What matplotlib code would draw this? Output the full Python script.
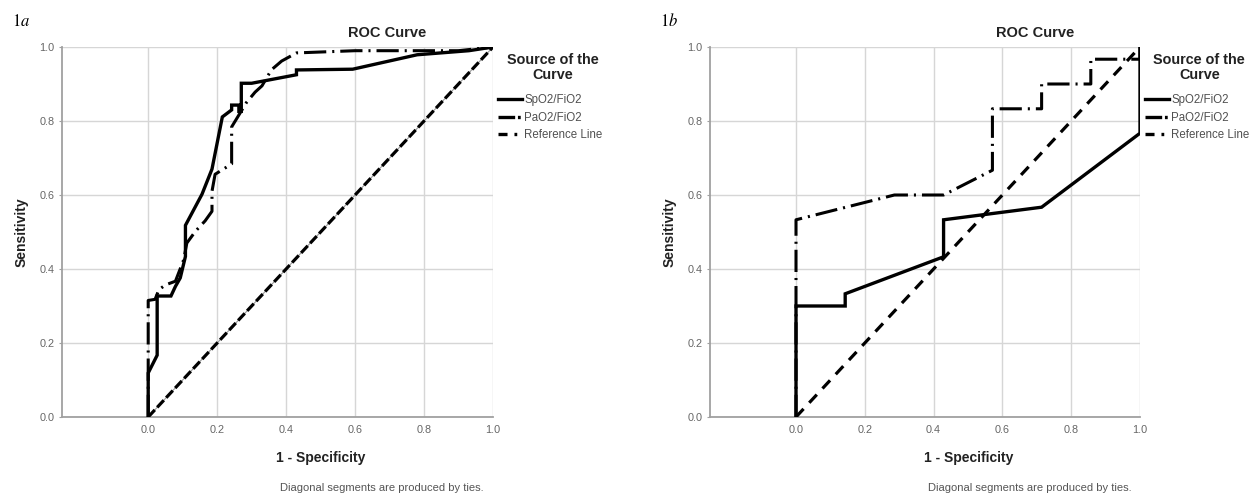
import numpy as np
import matplotlib
matplotlib.use('Agg')
import matplotlib.pyplot as plt
from matplotlib.lines import Line2D

plt.rcParams['font.family'] = ['Liberation Sans', 'DejaVu Sans']
plt.rcParams['lines.scale_dashes'] = False

# 图1a 的数据
a_sp_x = [0, 0, 0.026, 0.026, 0.066, 0.079, 0.093, 0.108, 0.108, 0.156, 0.185, 0.215,
          0.242, 0.242, 0.263, 0.263, 0.27, 0.27, 0.30, 0.43, 0.43, 0.593, 0.78, 0.93, 1.0]
a_sp_y = [0, 0.119, 0.167, 0.327, 0.327, 0.353, 0.376, 0.434, 0.518, 0.602, 0.67, 0.811,
          0.83, 0.843, 0.843, 0.826, 0.826, 0.902, 0.902, 0.925, 0.938, 0.94, 0.979, 0.99, 1.0]
a_pa_x = [0, 0, 0.02, 0.031, 0.05, 0.079, 0.103, 0.112, 0.137, 0.165, 0.185, 0.185, 0.194,
          0.242, 0.242, 0.285, 0.31, 0.33, 0.357, 0.387, 0.43, 0.6, 0.9, 1.0]
a_pa_y = [0, 0.315, 0.318, 0.344, 0.357, 0.367, 0.425, 0.47, 0.502, 0.53, 0.556, 0.61, 0.656,
          0.684, 0.784, 0.85, 0.878, 0.895, 0.938, 0.962, 0.984, 0.99, 0.99, 1.0]

# 图1b 的数据
b_sp_x = [0, 0, 0.143, 0.143, 0.429, 0.429, 0.714, 1.0, 1.0]
b_sp_y = [0, 0.300, 0.300, 0.333, 0.433, 0.533, 0.567, 0.767, 1.0]
b_pa_x = [0, 0, 0.286, 0.429, 0.571, 0.571, 0.714, 0.714, 0.857, 0.857, 1.0, 1.0]
b_pa_y = [0, 0.533, 0.600, 0.600, 0.667, 0.833, 0.833, 0.900, 0.900, 0.967, 0.967, 1.0]

ref_x = [0, 1]
ref_y = [0, 1]
ticks = [0.0, 0.2, 0.4, 0.6, 0.8, 1.0]
tick_labels = ['0.0', '0.2', '0.4', '0.6', '0.8', '1.0']

series_names = ['SpO2/FiO2', 'PaO2/FiO2', 'Reference Line']
dashdot = (0, (16, 4.3, 1.5, 4.3))

fig = plt.figure(figsize=(12.6, 4.96), dpi=100)
ax_a = fig.add_axes([62/1260, 79/496, 431/1260, 370/496])
ax_b = fig.add_axes([710/1260, 79/496, 430/1260, 370/496])


def draw_panel(ax, sp_x, sp_y, pa_x, pa_y, ref_dash, panel):
    if panel == 'a':
        ax.plot(ref_x, ref_y, color='#9a9a9a', lw=0.8, zorder=2)
    ax.plot(ref_x, ref_y, color='black', lw=2.3, linestyle=(0, ref_dash), zorder=3)
    ax.plot(pa_x, pa_y, color='black', lw=2.2, linestyle=dashdot, zorder=4)
    ax.plot(sp_x, sp_y, color='black', lw=2.4, zorder=5, solid_joinstyle='miter')

    ax.set_xlim(-0.25, 1.0)
    ax.set_ylim(0, 1.0)
    ax.set_xticks(ticks)
    ax.set_xticklabels(tick_labels)
    ax.set_yticks(ticks)
    ax.set_yticklabels(tick_labels)
    ax.grid(True, color='#d6d6d6', lw=1.0)
    ax.set_axisbelow(True)
    for s in ['top', 'right']:
        ax.spines[s].set_visible(False)
    for s in ['left', 'bottom']:
        ax.spines[s].set_color('#a0a0a0')
        ax.spines[s].set_linewidth(1.3)
    ax.tick_params(axis='y', length=2.5, color='#a0a0a0', labelcolor='#666666',
                   labelsize=7.8, pad=3)
    ax.tick_params(axis='x', length=0, labelcolor='#666666', labelsize=7.8, pad=6)

    ax.text(0.755, 1.038, 'ROC Curve', transform=ax.transAxes, ha='center', va='center',
            fontsize=10.5, fontweight='bold', color='#222222')
    ax.text(0.601, -0.111, '1 - Specificity', transform=ax.transAxes, ha='center',
            va='center', fontsize=10, fontweight='bold', color='#222222')
    ax.text(-0.093, 0.5, 'Sensitivity', transform=ax.transAxes, ha='center', va='center',
            rotation=90, fontsize=10, fontweight='bold', color='#222222')
    ax.text(0.506, -0.192, 'Diagonal segments are produced by ties.', transform=ax.transAxes,
            ha='left', va='center', fontsize=8, color='#555555')

    # 图例标题单独写, 方便控制位置
    ax.text(1.138, 0.945, 'Source of the\nCurve', transform=ax.transAxes, ha='center',
            va='center', multialignment='center', linespacing=1.15,
            fontsize=10.4, fontweight='bold', color='#222222')
    handles = [Line2D([], [], color='black', lw=2.4),
               Line2D([], [], color='black', lw=2.4, linestyle=(0, (12, 2, 2, 6))),
               Line2D([], [], color='black', lw=2.4, linestyle=(0, (6.5, 5, 2, 10)))]
    leg = ax.legend(handles, series_names, loc='upper left',
                    bbox_to_anchor=(1.012, 0.872), borderaxespad=0, borderpad=0,
                    frameon=False, fontsize=8.3, handlelength=2.1, handletextpad=0.15,
                    labelspacing=0.45)
    for t in leg.get_texts():
        t.set_color('#505050')


draw_panel(ax_a, a_sp_x, a_sp_y, a_pa_x, a_pa_y, (7, 2.5), 'a')
draw_panel(ax_b, b_sp_x, b_sp_y, b_pa_x, b_pa_y, (8, 6), 'b')

# 面板编号 1a / 1b
fig.text(12/1260, 1 - 26/496, r'$1\mathit{a}$', math_fontfamily='stix', fontsize=12)
fig.text(660/1260, 1 - 26/496, r'$1\mathit{b}$', math_fontfamily='stix', fontsize=12)

plt.savefig('out.png', dpi=100)
